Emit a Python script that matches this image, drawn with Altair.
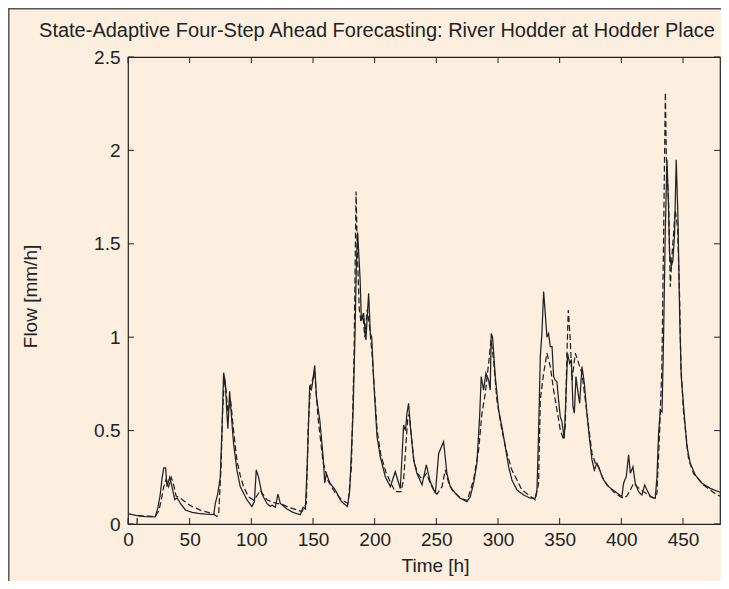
import altair as alt
import pandas as pd

# Observed flow (solid)
obs_t = [0, 7, 14, 22, 24, 26, 27.5, 29, 30.5, 31.6, 33.8, 35.7, 37.9, 39.8, 42.5, 46.5, 52, 57, 63, 69.5,
         70.8, 72.7, 74.8, 76.2, 77.5, 78.9, 80.2, 81, 82.4, 84.3, 85.6, 88.3, 91, 96.4, 100.5, 102.5, 104,
         105.9, 108.6, 112.6, 115.3, 117, 119.4, 121.6, 123.5, 128.9, 133, 137, 139.8, 141.9, 143.8, 145.4,
         147.3, 148.7, 149.5, 151.4, 152.8, 155.5, 158.2, 159.5, 160.9, 163.6, 167.7, 173.1, 177.9, 179.8,
         182.5, 184, 185.2, 186.2, 188.2, 189.2, 191, 192.9, 195.1, 196.5, 197.6, 199.2, 201.9, 204.6, 208.6,
         212.7, 216.7, 220.8, 223.5, 225, 226.2, 227.5, 229, 231.6, 234.3, 238.4, 241.9, 245.1, 249.2, 251.9,
         255.9, 258.6, 261.3, 265.4, 269.4, 274.8, 277.5, 280.2, 282.9, 285.1, 286.4, 288.3, 290.2, 292.4,
         293.7, 294.5, 295.6, 297.8, 300.5, 303.2, 305.9, 308.6, 311.3, 315.4, 320.8, 326.2, 330.2, 331.6,
         332.9, 334.3, 335.6, 337, 338.3, 339.7, 341, 342.4, 343.8, 345.1, 346.4, 347.8, 349.1, 350.5, 351.8,
         353.7, 355.1, 356.4, 358.1, 359.5, 360.8, 361.9, 363.2, 364.6, 366.2, 368.1, 370, 372.1, 374, 376.2,
         378.1, 380.2, 382.4, 385.6, 389.7, 395.1, 400.5, 401.8, 404, 405.9, 407.3, 409.4, 411.3, 414, 416.7,
         418.9, 420.8, 423.5, 427.5, 428.9, 430.2, 431.6, 433, 434.3, 435.6, 437, 438.1, 439.1, 440.5, 441.8,
         443.2, 444.5, 445.9, 447.3, 448.6, 450.5, 453.2, 455.9, 459.9, 465.4, 472.1, 480]
obs_v = [0.055, 0.045, 0.04, 0.038, 0.08, 0.15, 0.24, 0.30, 0.30, 0.20, 0.25, 0.20, 0.13, 0.14, 0.11, 0.075,
         0.062, 0.057, 0.053, 0.05, 0.11, 0.16, 0.25, 0.5, 0.81, 0.76, 0.59, 0.51, 0.71, 0.54, 0.43, 0.29, 0.2,
         0.13, 0.093, 0.12, 0.29, 0.25, 0.16, 0.11, 0.095, 0.1, 0.09, 0.16, 0.11, 0.08, 0.065, 0.055, 0.05,
         0.09, 0.08, 0.325, 0.735, 0.72, 0.75, 0.85, 0.68, 0.557, 0.36, 0.22, 0.27, 0.22, 0.185, 0.12, 0.093,
         0.18, 0.6, 1.0, 1.4, 1.56, 1.31, 1.09, 1.13, 0.985, 1.235, 1.02, 1.0, 0.77, 0.467, 0.36, 0.253, 0.2,
         0.28, 0.19, 0.53, 0.5, 0.593, 0.646, 0.52, 0.343, 0.27, 0.21, 0.316, 0.226, 0.164, 0.378, 0.44, 0.27,
         0.2, 0.164, 0.138, 0.12, 0.146, 0.218, 0.325, 0.575, 0.789, 0.717, 0.807, 0.77, 0.717, 1.02, 1.0,
         0.789, 0.61, 0.52, 0.414, 0.307, 0.236, 0.182, 0.155, 0.138, 0.138, 0.182, 0.486, 0.896, 1.02, 1.244,
         1.128, 1.0, 1.02, 0.95, 0.95, 0.789, 0.77, 0.76, 0.664, 0.575, 0.548, 0.459, 0.682, 0.914, 0.86, 0.88,
         0.628, 0.593, 0.789, 0.717, 0.646, 0.843, 0.753, 0.593, 0.468, 0.343, 0.289, 0.325, 0.289, 0.236, 0.2,
         0.173, 0.146, 0.218, 0.254, 0.37, 0.271, 0.307, 0.218, 0.173, 0.155, 0.209, 0.182, 0.146, 0.138,
         0.254, 0.486, 0.61, 0.6, 1.02, 1.556, 1.949, 1.735, 1.45, 1.38, 1.41, 1.556, 1.95, 1.645, 1.11, 0.789,
         0.628, 0.414, 0.325, 0.263, 0.218, 0.191, 0.17]

# Four-step ahead forecast (dashed)
fc_t = [7.3, 7.6, 14, 22, 25, 27, 29, 31, 33, 35, 37, 39, 42, 46, 50, 55, 60, 65, 69, 72, 73.5, 75.4, 76.7,
        78.1, 79.4, 81, 83.2, 85.6, 88.3, 91, 93.7, 97.8, 101.8, 104.5, 107.2, 112.6, 116, 120.8, 124.9, 130,
        137, 141, 144.6, 146, 147.9, 151.4, 154.2, 158.2, 162.3, 167.7, 173.1, 178.4, 181.1, 183.3, 184.2,
        184.9, 186, 187.5, 189, 190.5, 192, 194, 196, 198, 200, 202, 205, 209, 213, 216.7, 221.4, 223.5,
        226.7, 228, 230, 232, 235, 238.4, 242, 245, 247.8, 250.5, 254.6, 257.3, 260, 263, 269.4, 275, 280.2,
        284.3, 287, 289.7, 292.4, 294.3, 296.4, 299.1, 303.2, 307.3, 311.3, 314, 319.4, 324.8, 330.2, 332.9,
        334.3, 337, 339.7, 342.4, 345.1, 347.8, 350.5, 353.2, 354.5, 355.9, 357, 358.6, 360, 362.7, 365.4,
        368.1, 370.8, 373.5, 376.2, 378.9, 381.6, 384.3, 388.3, 393.7, 399.2, 401.8, 404.5, 407.3, 409.9,
        412.7, 418.1, 422.1, 426.2, 428.9, 431, 432.9, 434.3, 435.7, 436.5, 438.3, 439.7, 441, 443.7, 445.6,
        447.3, 448.3, 450.5, 454.6, 458.6, 466.7, 472.1, 477.5, 480]
fc_v = [0.0, 0.046, 0.042, 0.04, 0.07, 0.13, 0.2, 0.24, 0.2, 0.25, 0.21, 0.15, 0.14, 0.12, 0.1, 0.085, 0.07,
        0.062, 0.055, 0.04, 0.05, 0.3, 0.6, 0.78, 0.72, 0.6, 0.66, 0.5, 0.34, 0.26, 0.2, 0.145, 0.128, 0.15,
        0.18, 0.13, 0.12, 0.11, 0.105, 0.09, 0.075, 0.066, 0.11, 0.5, 0.735, 0.81, 0.56, 0.33, 0.23, 0.17,
        0.13, 0.11, 0.3, 0.9, 1.4, 1.78, 1.45, 1.15, 1.08, 1.12, 1.0, 1.15, 1.05, 0.9, 0.7, 0.5, 0.37, 0.28,
        0.22, 0.173, 0.173, 0.24, 0.557, 0.59, 0.45, 0.33, 0.27, 0.24, 0.27, 0.22, 0.182, 0.16, 0.2, 0.29,
        0.22, 0.18, 0.14, 0.125, 0.236, 0.396, 0.593, 0.7, 0.86, 0.985, 0.88, 0.664, 0.5, 0.378, 0.289, 0.254,
        0.182, 0.155, 0.129, 0.218, 0.664, 0.807, 0.914, 0.843, 0.717, 0.61, 0.504, 0.45, 0.52, 0.914, 1.146,
        0.985, 0.77, 0.914, 0.86, 0.807, 0.664, 0.52, 0.378, 0.325, 0.307, 0.254, 0.209, 0.173, 0.146, 0.138,
        0.15, 0.182, 0.218, 0.2, 0.173, 0.155, 0.138, 0.164, 0.486, 0.843, 1.556, 2.31, 1.966, 1.735, 1.27,
        1.43, 1.68, 1.59, 1.2, 0.843, 0.593, 0.343, 0.27, 0.209, 0.182, 0.155, 0.15]

x_ticks = [0, 50, 100, 150, 200, 250, 300, 350, 400, 450]
y_ticks = [0, 0.5, 1, 1.5, 2, 2.5]

TITLE = "State-Adaptive Four-Step Ahead Forecasting: River Hodder at Hodder Place"
FONT = "Liberation Sans"
INK = "#222222"
BG = "#fcefdf"
W, H = 592, 467

obs = pd.DataFrame({"t": obs_t, "v": obs_v})
fc = pd.DataFrame({"t": fc_t, "v": fc_v})
xt = pd.DataFrame({"t": x_ticks})
yt = pd.DataFrame({"v": y_ticks})
title_df = pd.DataFrame({"label": [TITLE]})

x_scale = alt.Scale(domain=[0, 480], nice=False, zero=False)
y_scale = alt.Scale(domain=[0, 2.5], nice=False, zero=False)

x_axis = alt.Axis(values=x_ticks, title="Time [h]", ticks=False, domain=False, grid=False,
                  labelPadding=6, titleX=307, titleY=41, titleBaseline="middle",
                  labelFlush=False)
y_axis = alt.Axis(values=y_ticks, title="Flow [mm/h]", ticks=False, domain=False, grid=False,
                  labelPadding=8, titleX=-98, titleY=239, titleAngle=-90, titleBaseline="middle",
                  titleAlign="center", labelFlush=False,
                  labelExpr="datum.value == 0 ? '0' : format(datum.value, '.2~f')")

X = alt.X("t:Q", scale=x_scale, axis=x_axis)
Y = alt.Y("v:Q", scale=y_scale, axis=y_axis)

obs_line = alt.Chart(obs).mark_line(color=INK, strokeWidth=1.25).encode(x=X, y=Y)
fc_line = alt.Chart(fc).mark_line(color=INK, strokeWidth=1.25, strokeDash=[6, 3]).encode(x=X, y=Y)

tick_bottom = alt.Chart(xt).mark_rule(color=INK, strokeWidth=1).encode(
    x=X, y=alt.value(H), y2=alt.value(H - 6))
tick_top = alt.Chart(xt).mark_rule(color=INK, strokeWidth=1).encode(
    x=X, y=alt.value(0), y2=alt.value(6))
tick_left = alt.Chart(yt).mark_rule(color=INK, strokeWidth=1).encode(
    y=Y, x=alt.value(0), x2=alt.value(6))
tick_right = alt.Chart(yt).mark_rule(color=INK, strokeWidth=1).encode(
    y=Y, x=alt.value(W), x2=alt.value(W - 6))

one = pd.DataFrame({"k": [0]})
frame_left = alt.Chart(one).mark_rule(color="#555555", strokeWidth=1.5).encode(
    x=alt.value(-119.2), y=alt.value(-49), y2=alt.value(H + 60))
frame_top = alt.Chart(one).mark_rule(color="#555555", strokeWidth=1.5).encode(
    y=alt.value(-48.2), x=alt.value(-120), x2=alt.value(W + 1))

title_text = alt.Chart(title_df).mark_text(
    font=FONT, fontSize=20, color=INK, align="center", baseline="alphabetic"
).encode(text="label:N", x=alt.value(249), y=alt.value(-20))

chart = alt.layer(
    frame_left, frame_top, tick_bottom, tick_top, tick_left, tick_right, obs_line, fc_line, title_text
).properties(
    width=W, height=H,
    autosize=alt.AutoSizeParams(type="none"),
    padding={"left": 120, "top": 49, "right": 1, "bottom": 57},
).configure(
    background=BG,
).configure_view(
    stroke=INK, strokeWidth=1.2, fill=BG,
).configure_axis(
    labelFont=FONT, labelFontSize=19, labelColor=INK,
    titleFont=FONT, titleFontSize=19, titleColor=INK, titleFontWeight="normal",
)

chart.save("out.html", embed_options={"renderer": "svg", "actions": False})
